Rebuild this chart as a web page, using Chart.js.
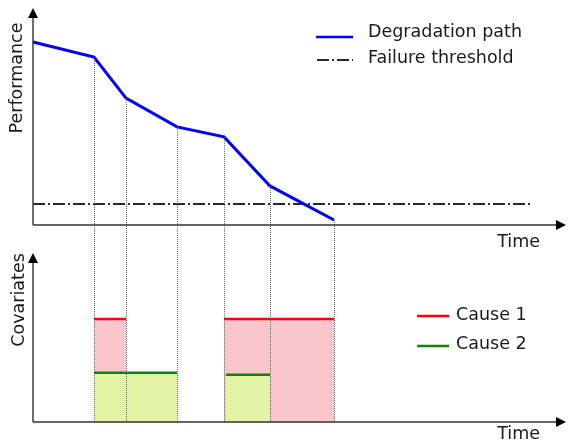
<!DOCTYPE html>
<html>
<head>
<meta charset="utf-8">
<script src="https://cdn.jsdelivr.net/npm/chart.js@4/dist/chart.umd.min.js"></script>
<style>
  html, body { margin: 0; padding: 0; background: #ffffff; }
  #wrap { width: 568px; height: 443px; position: relative; }
</style>
</head>
<body>
<div id="wrap"><canvas id="c" width="568" height="443"></canvas></div>
<script>
// ---- data (arbitrary schematic units) ----
const breakTimes   = [0, 6.1, 9.3, 14.4, 19.1, 23.7, 30.1];
const performance  = [8.43, 7.74, 5.85, 4.52, 4.06, 1.80, 0.23];
const thresholdLevel = 0.97;
const thresholdSpan  = [0, 49.7];

const cause1Start = [6.1, 19.1];
const cause1End   = [9.3, 30.1];
const cause1Level = [6.1, 6.1];

const cause2Start = [6.1, 19.3];
const cause2End   = [14.4, 23.7];
const cause2Level = [2.92, 2.80];

const axisTimeEnd  = 53.3;
const axisPerfTop  = 10;
const axisCovTop   = 10;

const seriesLabels = ['Degradation path', 'Failure threshold', 'Cause 1', 'Cause 2'];
const axisLabels = { perf: 'Performance', cov: 'Covariates', time: 'Time' };

// ---- helpers ----
function steps(starts, ends, levels) {
  const out = [];
  for (let i = 0; i < starts.length; i++) {
    if (i > 0) out.push({ x: (ends[i - 1] + starts[i]) / 2, y: null });
    out.push({ x: starts[i], y: levels[i] });
    out.push({ x: ends[i], y: levels[i] });
  }
  return out;
}
const pathData = breakTimes.map((t, i) => ({ x: t, y: performance[i] }));
const thresholdData = thresholdSpan.map(t => ({ x: t, y: thresholdLevel }));

const FONT = '17.5px "DejaVu Sans", Verdana, sans-serif';
const TEXT = '#1a1a1a';
const AXIS = '#333333';

const diagramPlugin = {
  id: 'diagram',
  afterDatasetsDraw(chart) {
    const ctx = chart.ctx;
    const xs = chart.scales.x, yP = chart.scales.yP, yC = chart.scales.yC;

    // dotted connectors from each break point down to the covariate time axis
    ctx.save();
    ctx.strokeStyle = '#666666';
    ctx.lineWidth = 1;
    ctx.setLineDash([1, 1]);
    for (let i = 1; i < breakTimes.length; i++) {
      const px = Math.round(xs.getPixelForValue(breakTimes[i])) + 0.5;
      ctx.beginPath();
      ctx.moveTo(px, yP.getPixelForValue(performance[i]));
      ctx.lineTo(px, yC.getPixelForValue(0));
      ctx.stroke();
    }
    ctx.restore();

    // axes with arrow heads
    function arrowAxes(yScale, top) {
      const x0 = xs.getPixelForValue(0);
      const y0 = yScale.getPixelForValue(0);
      const yt = yScale.getPixelForValue(top);
      const xe = xs.getPixelForValue(axisTimeEnd);
      ctx.save();
      ctx.strokeStyle = AXIS;
      ctx.fillStyle = '#000000';
      ctx.lineWidth = 1.4;
      ctx.beginPath();
      ctx.moveTo(x0, y0);
      ctx.lineTo(x0, yt + 8);
      ctx.moveTo(x0, y0);
      ctx.lineTo(xe - 8, y0);
      ctx.stroke();
      ctx.beginPath();
      ctx.moveTo(x0, yt);
      ctx.lineTo(x0 - 5, yt + 10);
      ctx.lineTo(x0 + 5, yt + 10);
      ctx.closePath();
      ctx.fill();
      ctx.beginPath();
      ctx.moveTo(xe, y0);
      ctx.lineTo(xe - 10, y0 - 5);
      ctx.lineTo(xe - 10, y0 + 5);
      ctx.closePath();
      ctx.fill();
      ctx.restore();
    }
    arrowAxes(yP, axisPerfTop);
    arrowAxes(yC, axisCovTop);

    // axis titles
    ctx.save();
    ctx.font = FONT;
    ctx.fillStyle = TEXT;
    ctx.textAlign = 'right';
    ctx.textBaseline = 'alphabetic';
    ctx.fillText(axisLabels.time, 540, 247);
    ctx.fillText(axisLabels.time, 540, 439);
    ctx.save();
    ctx.translate(22, 78);
    ctx.rotate(-Math.PI / 2);
    ctx.textAlign = 'center';
    ctx.fillText(axisLabels.perf, 0, 0);
    ctx.restore();
    ctx.save();
    ctx.translate(24, 300);
    ctx.rotate(-Math.PI / 2);
    ctx.textAlign = 'center';
    ctx.fillText(axisLabels.cov, 0, 0);
    ctx.restore();
    ctx.restore();

    // legends
    const items = [
      { ds: 0, x1: 316, x2: 353, ly: 37, tx: 368, ty: 37 },
      { ds: 1, x1: 317, x2: 353, ly: 60, tx: 368, ty: 63 },
      { ds: 2, x1: 417, x2: 449, ly: 316, tx: 456, ty: 320 },
      { ds: 3, x1: 417, x2: 449, ly: 346, tx: 456, ty: 349 }
    ];
    ctx.save();
    items.forEach(it => {
      const d = chart.data.datasets[it.ds];
      ctx.save();
      ctx.strokeStyle = d.borderColor;
      ctx.lineWidth = it.ds === 1 ? 2 : 2.5;
      ctx.setLineDash(d.borderDash || []);
      ctx.beginPath();
      ctx.moveTo(it.x1, it.ly);
      ctx.lineTo(it.x2, it.ly);
      ctx.stroke();
      ctx.restore();
      ctx.font = FONT;
      ctx.fillStyle = TEXT;
      ctx.textAlign = 'left';
      ctx.textBaseline = 'alphabetic';
      ctx.fillText(d.label, it.tx, it.ty);
    });
    ctx.restore();
  }
};

new Chart(document.getElementById('c'), {
  type: 'line',
  data: {
    datasets: [
      { label: seriesLabels[0], data: pathData, yAxisID: 'yP', order: 0,
        borderColor: '#0000ff', borderWidth: 3, pointRadius: 0, tension: 0, fill: false },
      { label: seriesLabels[1], data: thresholdData, yAxisID: 'yP', order: 1,
        borderColor: '#2a2a2a', borderWidth: 2, borderDash: [12, 3, 2, 3], pointRadius: 0, fill: false },
      { label: seriesLabels[2], data: steps(cause1Start, cause1End, cause1Level), yAxisID: 'yC', order: 3,
        borderColor: '#ff0000', borderWidth: 2.5, pointRadius: 0, spanGaps: false,
        fill: 'origin', backgroundColor: '#f9c6cb' },
      { label: seriesLabels[3], data: steps(cause2Start, cause2End, cause2Level), yAxisID: 'yC', order: 2,
        borderColor: '#0e820e', borderWidth: 2.5, pointRadius: 0, spanGaps: false,
        fill: 'origin', backgroundColor: '#e3f4a7' }
    ]
  },
  options: {
    responsive: false,
    animation: false,
    devicePixelRatio: 1,
    layout: { padding: 0 },
    plugins: { legend: { display: false }, tooltip: { enabled: false } },
    scales: {
      x:  { type: 'linear', display: false, min: -3.3, max: 53.5, bounds: 'data' },
      yP: { type: 'linear', display: false, min: -10.046, max: 10.369, bounds: 'data' },
      yC: { type: 'linear', display: false, min: -1.243, max: 24.97, bounds: 'data' }
    }
  },
  plugins: [diagramPlugin]
});
</script>
</body>
</html>
